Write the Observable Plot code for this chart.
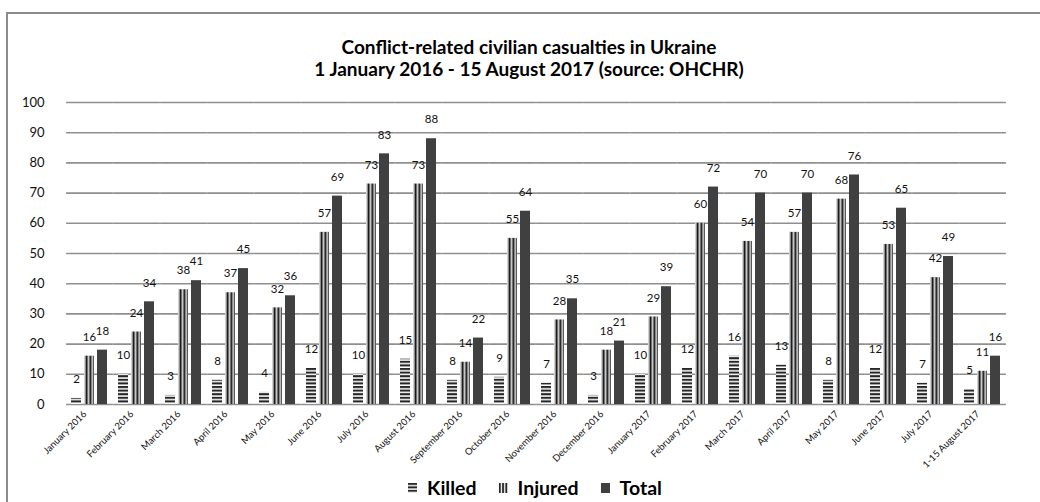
<!DOCTYPE html>
<html>
<head>
<meta charset="utf-8">
<script src="https://cdn.jsdelivr.net/npm/d3@7"></script>
<script src="https://cdn.jsdelivr.net/npm/@observablehq/plot@0.6"></script>
<style>
html,body{margin:0;padding:0;background:#fff;width:1040px;height:502px;overflow:hidden;font-family:Lato,"Open Sans",sans-serif;}
#frame{position:absolute;left:6px;top:12px;width:1200px;height:700px;border-left:2px solid #8c8c8c;border-top:2px solid #8c8c8c;box-sizing:border-box;}
#title{position:absolute;left:0;width:1058px;top:36px;text-align:center;font-weight:bold;font-size:19px;line-height:22px;color:#000;}
#chart{position:absolute;left:0;top:80px;}
#legend{position:absolute;left:0;width:1070px;top:476px;display:flex;justify-content:center;align-items:center;font-weight:bold;font-size:19.5px;color:#000;}
#legend .item{display:flex;align-items:center;margin:0 11px;}
#legend svg{margin-right:10px;}
</style>
</head>
<body>
<div id="frame"></div>
<div id="title">Conflict-related civilian casualties in Ukraine<br>1 January 2016 - 15 August 2017 (source: OHCHR)</div>
<div id="chart"></div>
<div id="legend"></div>
<script>
const months = ["January 2016","February 2016","March 2016","April 2016","May 2016","June 2016","July 2016","August 2016","September 2016","October 2016","November 2016","December 2016","January 2017","February 2017","March 2017","April 2017","May 2017","June 2017","July 2017","1-15 August 2017"];
const series = ["Killed","Injured","Total"];
const killed  = [2,10,3,8,4,12,10,15,8,9,7,3,10,12,16,13,8,12,7,5];
const injured = [16,24,38,37,32,57,73,73,14,55,28,18,29,60,54,57,68,53,42,11];
const total   = [18,34,41,45,36,69,83,88,22,64,35,21,39,72,70,70,76,65,49,16];
const yTicks = [0,10,20,30,40,50,60,70,80,90,100];

const values = {Killed: killed, Injured: injured, Total: total};
const rows = months.flatMap((m, i) => series.map(s => ({month: m, series: s, value: values[s][i]})));

const defs = `<defs>
<pattern id="pKilled" patternUnits="userSpaceOnUse" width="4" height="3.6">
  <rect width="4" height="3.6" fill="#ffffff"/>
  <rect y="0" width="4" height="1.9" fill="#262626"/>
  <rect y="1.9" width="4" height="0.7" fill="#b0b0b0"/>
</pattern>
<pattern id="pInjured" patternUnits="userSpaceOnUse" width="3.8" height="4">
  <rect width="3.8" height="4" fill="#ffffff"/>
  <rect x="0.5" width="2.1" height="4" fill="#151515"/>
  <rect x="2.6" width="0.6" height="4" fill="#8a8a8a"/>
</pattern>
</defs>`;

const chart = Plot.plot({
  width: 1040,
  height: 400,
  marginLeft: 60,
  marginRight: 27,
  marginTop: 22,
  marginBottom: 76,
  style: {fontFamily: "Lato, 'Open Sans', sans-serif", color: "#111", background: "transparent", overflow: "visible"},
  fx: {domain: months, paddingInner: 0.12, paddingOuter: 0.06, label: null},
  x: {domain: series, paddingInner: 0.2, paddingOuter: 0.1, axis: null},
  y: {domain: [0, 100], label: null},
  color: {domain: series, range: ["url(#pKilled)", "url(#pInjured)", "#404040"]},
  marks: [
    Plot.ruleY(yTicks, {stroke: "#8f8f8f", strokeWidth: 1.6, insetLeft: -2.9, insetRight: -2.9}),
    Plot.axisY(yTicks, {tickSize: 0, tickPadding: 25, fontSize: 13, label: null}),
    Plot.axisFx({anchor: "bottom", tickRotate: -45, tickSize: 0, tickPadding: 8, dx: -5, fontSize: 9.5, label: null}),
    Plot.barY(rows, {fx: "month", x: "series", y: "value", fill: "series"}),
    Plot.text(rows, {fx: "month", x: "series", y: "value", text: d => String(d.value), dy: -19, fontSize: 11.5, fill: "#111"})
  ]
});
chart.insertAdjacentHTML("afterbegin", defs);
document.getElementById("chart").appendChild(chart);

const legendFill = {Killed: "url(#lKilled)", Injured: "url(#lInjured)", Total: "#404040"};
const legend = document.getElementById("legend");
legend.innerHTML = series.map(s => `<span class="item"><svg width="9" height="10">
<defs>
<pattern id="lKilled" patternUnits="userSpaceOnUse" width="10" height="3.4"><rect width="10" height="3.4" fill="#fff"/><rect width="10" height="2" fill="#262626"/></pattern>
<pattern id="lInjured" patternUnits="userSpaceOnUse" width="3.2" height="10"><rect width="3.2" height="10" fill="#fff"/><rect width="1.8" height="10" fill="#262626"/></pattern>
</defs>
<rect width="9" height="10" fill="${legendFill[s]}"/></svg>${s}</span>`).join("");
</script>
</body>
</html>
